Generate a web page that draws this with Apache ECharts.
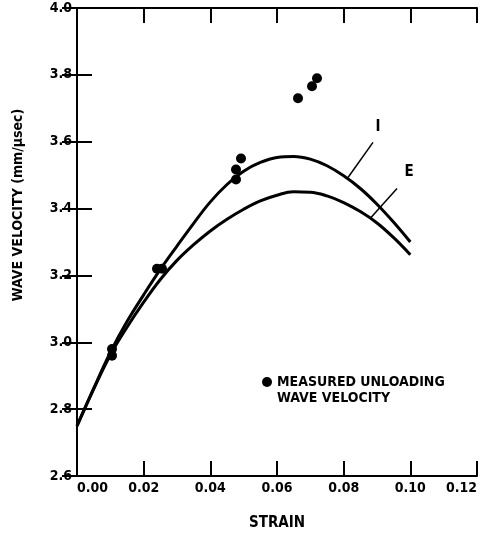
<!DOCTYPE html>
<html>
<head>
<meta charset="utf-8">
<script src="https://cdn.jsdelivr.net/npm/echarts@6/dist/echarts.min.js"></script>
<style>
  html, body { margin: 0; padding: 0; background: #fff; }
  #chart { width: 481px; height: 533px; }
</style>
</head>
<body>
<div id="chart"></div>
<script>
// curves I and E share the same strain points
const strain = [0, 0.005, 0.01, 0.015, 0.02, 0.025, 0.03, 0.035, 0.04, 0.045, 0.05,
  0.055, 0.06, 0.065, 0.07, 0.075, 0.08, 0.085, 0.09, 0.095, 0.10];
const velocityI = [2.75, 2.862, 2.97, 3.062, 3.142, 3.218, 3.288, 3.356, 3.42, 3.472, 3.512,
  3.538, 3.553, 3.556, 3.548, 3.528, 3.498, 3.46, 3.413, 3.359, 3.30];
const velocityE = [2.75, 2.86, 2.962, 3.045, 3.12, 3.188, 3.245, 3.292, 3.333, 3.368, 3.398,
  3.423, 3.44, 3.45, 3.449, 3.438, 3.418, 3.391, 3.357, 3.313, 3.262];

// measured unloading wave velocity
const measuredStrain = [0.0105, 0.0105, 0.024, 0.0255, 0.0477, 0.0477, 0.0492, 0.0663, 0.0705, 0.072];
const measuredVelocity = [2.98, 2.96, 3.22, 3.22, 3.487, 3.517, 3.55, 3.73, 3.766, 3.79];

// curve labels and leader lines [labelX, labelY, fromX, fromY, toX, toY]
const curveLabelI = [0.0903, 3.643, 0.0888, 3.598, 0.0813, 3.493];
const curveLabelE = [0.0996, 3.508, 0.096, 3.46, 0.0882, 3.373];

const font = "DejaVu Sans Condensed";
const measuredName = "MEASURED UNLOADING WAVE VELOCITY";

function pairs(xs, ys) {
  return xs.map((x, i) => [x, ys[i]]);
}

function curveSeries(name, ys, lab) {
  return {
    name: name,
    type: "line",
    smooth: 0.4,
    showSymbol: false,
    data: pairs(strain, ys),
    lineStyle: { color: "#000", width: 3 },
    itemStyle: { color: "#000" },
    markPoint: {
      symbol: "circle",
      symbolSize: 0,
      label: { show: true, formatter: name, fontFamily: font, fontWeight: "bold", fontSize: 15, color: "#000" },
      data: [{ coord: [lab[0], lab[1]] }],
    },
    markLine: {
      silent: true,
      symbol: "none",
      lineStyle: { color: "#000", width: 1.5, type: "solid" },
      label: { show: false },
      data: [[{ coord: [lab[2], lab[3]] }, { coord: [lab[4], lab[5]] }]],
    },
  };
}

const chart = echarts.init(document.getElementById("chart"));

const axisLine = { show: true, lineStyle: { color: "#000", width: 2 } };
const axisTick = { show: true, inside: true, length: 15, lineStyle: { color: "#000", width: 2 } };

chart.setOption({
  animation: false,
  backgroundColor: "#fff",
  textStyle: { fontFamily: font, fontWeight: "bold", color: "#000" },
  grid: { left: 77, right: 4, top: 8, bottom: 57, outerBoundsMode: "none" },
  legend: {
    data: [measuredName],
    left: 257,
    top: 370,
    icon: "circle",
    itemWidth: 10,
    itemHeight: 10,
    itemGap: 0,
    formatter: () => "{a|MEASURED UNLOADING}\n{b|WAVE VELOCITY}",
    textStyle: {
      fontFamily: font,
      fontWeight: "bold",
      fontSize: 14,
      color: "#000",
      rich: {
        a: { fontFamily: font, fontWeight: "bold", fontSize: 14, color: "#000", lineHeight: 32, verticalAlign: "bottom" },
        b: { fontFamily: font, fontWeight: "bold", fontSize: 14, color: "#000", lineHeight: 18 },
      },
    },
  },
  xAxis: [
    {
      type: "value",
      min: 0,
      max: 0.12,
      interval: 0.02,
      name: "STRAIN",
      nameLocation: "middle",
      nameGap: 40,
      nameTextStyle: { fontFamily: font, fontWeight: "bold", fontSize: 15, color: "#000" },
      axisLine: axisLine,
      axisTick: axisTick,
      splitLine: { show: false },
      axisLabel: {
        margin: 5,
        fontSize: 14,
        fontFamily: font,
        fontWeight: "bold",
        color: "#000",
        alignMinLabel: "left",
        alignMaxLabel: "right",
        formatter: (v) => v.toFixed(2),
      },
    },
    {
      type: "value",
      position: "top",
      min: 0,
      max: 0.12,
      interval: 0.02,
      axisLine: axisLine,
      axisTick: axisTick,
      axisLabel: { show: false },
      splitLine: { show: false },
    },
  ],
  yAxis: [
    {
      type: "value",
      min: 2.6,
      max: 4.0,
      interval: 0.2,
      name: "WAVE VELOCITY (mm/μsec)",
      nameLocation: "middle",
      nameGap: 52,
      nameTextStyle: {
        fontFamily: font,
        fontWeight: "bold",
        fontSize: 14,
        color: "#000",
        padding: [0, 0, 0, 74],
      },
      axisLine: axisLine,
      axisTick: axisTick,
      splitLine: { show: false },
      axisLabel: {
        margin: 5,
        fontSize: 14,
        fontFamily: font,
        fontWeight: "bold",
        color: "#000",
        formatter: (v) => v.toFixed(1),
      },
    },
    {
      type: "value",
      position: "right",
      min: 2.6,
      max: 4.0,
      interval: 0.2,
      axisLine: axisLine,
      axisTick: axisTick,
      axisLabel: { show: false },
      splitLine: { show: false },
    },
  ],
  series: [
    curveSeries("I", velocityI, curveLabelI),
    curveSeries("E", velocityE, curveLabelE),
    {
      name: measuredName,
      type: "scatter",
      symbol: "circle",
      symbolSize: 10,
      data: pairs(measuredStrain, measuredVelocity),
      itemStyle: { color: "#000", opacity: 1 },
      z: 5,
    },
  ],
});
</script>
</body>
</html>
